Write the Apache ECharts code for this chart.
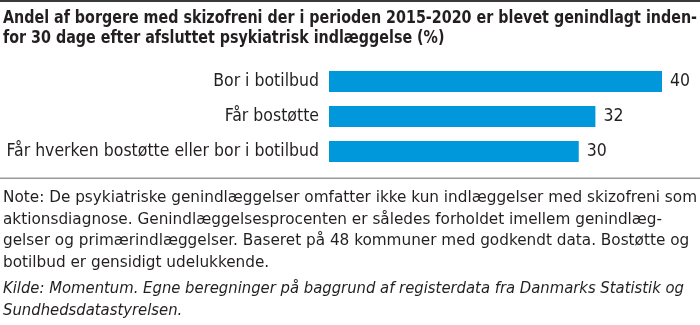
<!DOCTYPE html>
<html>
<head>
<meta charset="utf-8">
<script src="https://cdn.jsdelivr.net/npm/echarts@6/dist/echarts.min.js"></script>
<style>
  html, body { margin: 0; padding: 0; background: #fff; }
  #chart { width: 700px; height: 325px; }
</style>
</head>
<body>
<div id="chart"></div>
<script>
// Genindlæggelser inden for 30 dage, fordelt på boform
const categories = ['Bor i botilbud', 'Får bostøtte', 'Får hverken bostøtte eller bor i botilbud'];
const values = [40, 32, 30];

const titleLines = [
  'Andel af borgere med skizofreni der i perioden 2015-2020 er blevet genindlagt inden-',
  'for 30 dage efter afsluttet psykiatrisk indlæggelse (%)'
];
const noteLines = [
  'Note: De psykiatriske genindlæggelser omfatter ikke kun indlæggelser med skizofreni som',
  'aktionsdiagnose. Genindlæggelsesprocenten er således forholdet imellem genindlæg-',
  'gelser og primærindlæggelser. Baseret på 48 kommuner med godkendt data. Bostøtte og',
  'botilbud er gensidigt udelukkende.'
];
const sourceLines = [
  'Kilde: Momentum. Egne beregninger på baggrund af registerdata fra Danmarks Statistik og',
  'Sundhedsdatastyrelsen.'
];

const FONT = '"DejaVu Sans Condensed", "Open Sans", sans-serif';
const INK = '#231f20';

// Each text block is scaled horizontally so that its first line spans the given width.
const measureCtx = document.createElement('canvas').getContext('2d');
function fitScale(font, text, width) {
  measureCtx.font = font;
  return width / measureCtx.measureText(text).width;
}

const chart = echarts.init(document.getElementById('chart'), null, { renderer: 'canvas' });

const graphics = [
  { type: 'rect', shape: { x: 0, y: 0, width: 700, height: 2 }, style: { fill: '#3a3a3a' } },
  { type: 'rect', shape: { x: 0, y: 177.5, width: 700, height: 1.5 }, style: { fill: '#9a9a9a' } }
];

function addBlock(lines, font, firstY, step, width) {
  const s = fitScale(font, lines[0], width);
  lines.forEach((t, i) => graphics.push({
    type: 'text', x: 3, y: firstY + i * step, scaleX: s,
    style: { text: t, font: font, fill: INK, verticalAlign: 'middle' }
  }));
}

addBlock(titleLines, 'bold 17.5px ' + FONT, 18, 20, 694);
addBlock(noteLines, '16px ' + FONT, 198, 21.5, 694);
addBlock(sourceLines, 'italic 16px ' + FONT, 289, 21.5, 681);

chart.setOption({
  animation: false,
  grid: { left: 329, width: 333, top: 64, height: 105, containLabel: false },
  xAxis: {
    type: 'value', min: 0, max: 40,
    show: false
  },
  yAxis: {
    type: 'category', inverse: true, data: categories,
    axisLine: { show: false }, axisTick: { show: false },
    axisLabel: { margin: 10, color: INK, fontFamily: FONT, fontSize: 17.5 }
  },
  series: [{
    type: 'bar', data: values, barWidth: 21,
    itemStyle: { color: '#0098da' },
    label: {
      show: true, position: 'right', distance: 8,
      color: INK, fontFamily: FONT, fontSize: 17.5
    }
  }],
  graphic: graphics
});
</script>
</body>
</html>
